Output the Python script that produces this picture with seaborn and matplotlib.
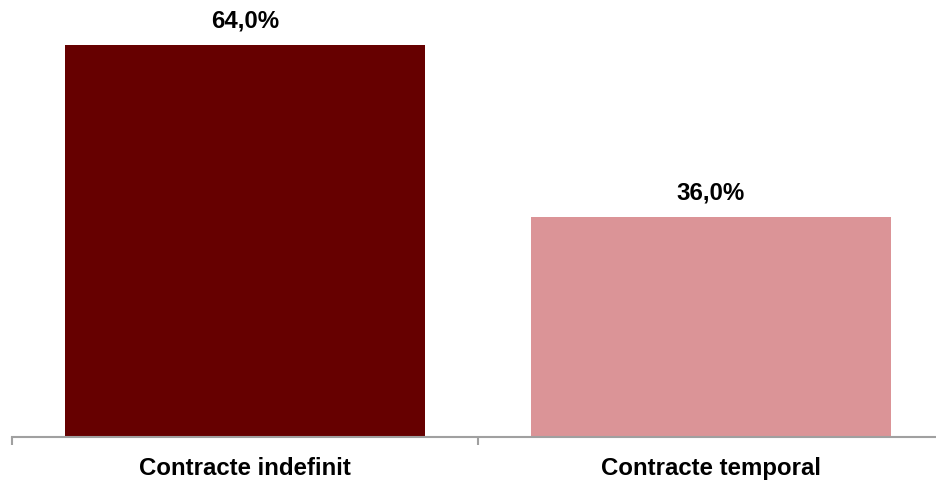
import matplotlib
matplotlib.use("Agg")
import matplotlib.pyplot as plt
import seaborn as sns
import pandas as pd

categories = ["Contracte indefinit", "Contracte temporal"]
values = [64.0, 36.0]
labels = ["64,0%", "36,0%"]
colors = ["#660000", "#DB9497"]

sns.set_theme(style="white")
plt.rcParams['font.family'] = ['Liberation Sans', 'DejaVu Sans']

fig = plt.figure(figsize=(9.37, 4.8), dpi=100)
ax = fig.add_axes([12/937, 43/480, 932/937, 437/480])

df = pd.DataFrame({"cat": categories, "val": values})
sns.barplot(data=df, x="cat", y="val", hue="cat", palette=colors, width=0.773,
            ax=ax, legend=False, saturation=1, linewidth=0)

ax.set_xlim(-0.5, 1.5)
ax.set_ylim(0, 437/6.125)
for s in ["top", "right", "left"]:
    ax.spines[s].set_visible(False)
ax.spines["bottom"].set_color("#A0A0A0")
ax.spines["bottom"].set_linewidth(1.5)
ax.set_yticks([])
ax.set_xticks([-0.5, 0.5, 1.5])
ax.set_xticklabels([])
ax.tick_params(axis="x", which="major", length=6, width=1.5, color="#A0A0A0", bottom=True)
ax.set_xlabel("")
ax.set_ylabel("")
for i, c in enumerate(categories):
    ax.text(i, -0.072, c, transform=ax.get_xaxis_transform(), ha="center", va="center",
            fontsize=17.3, fontweight="bold", color="black")
for i, (v, l) in enumerate(zip(values, labels)):
    ax.annotate(l, (i, v), xytext=(0, 17), textcoords="offset points", ha="center",
                va="center", fontsize=17.3, fontweight="bold", color="black")

fig.savefig("out.png", dpi=100)
